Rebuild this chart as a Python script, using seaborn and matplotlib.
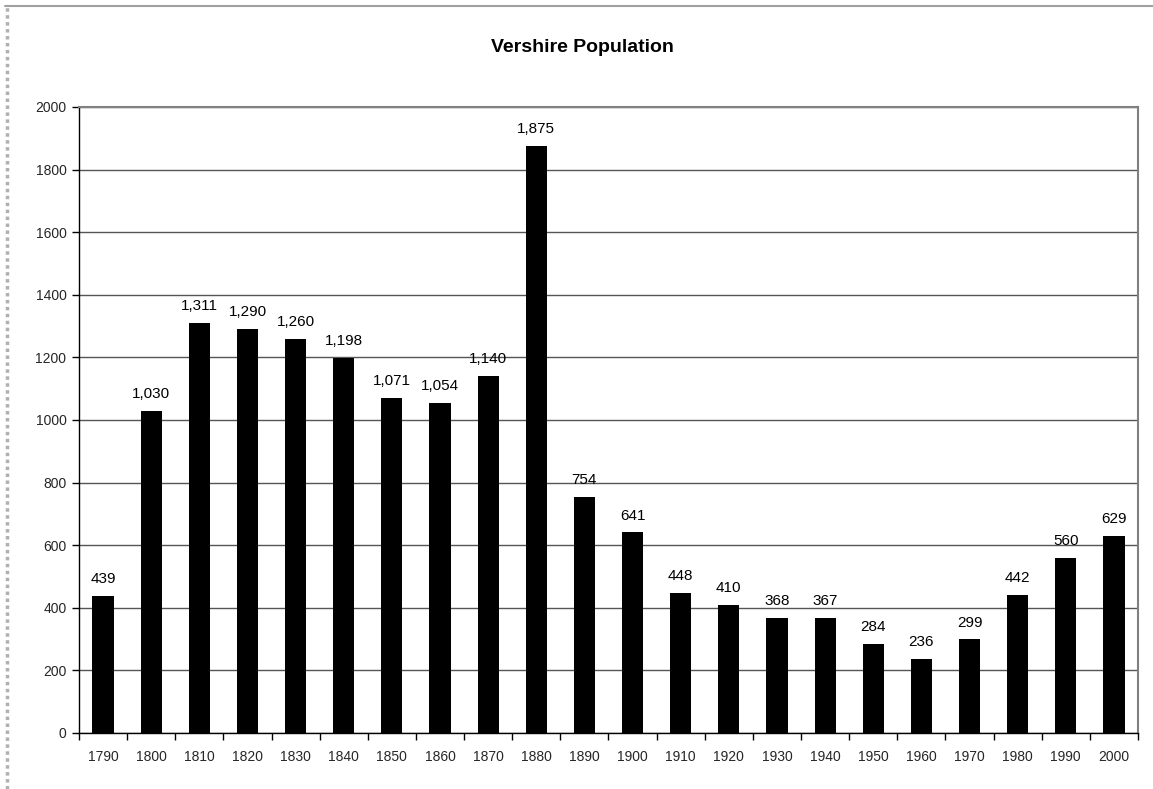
import matplotlib
matplotlib.use("Agg")
import matplotlib.pyplot as plt
from matplotlib.lines import Line2D
import seaborn as sns
import pandas as pd

years = ["1790", "1800", "1810", "1820", "1830", "1840", "1850", "1860", "1870", "1880",
         "1890", "1900", "1910", "1920", "1930", "1940", "1950", "1960", "1970", "1980",
         "1990", "2000"]
population = [439, 1030, 1311, 1290, 1260, 1198, 1071, 1054, 1140, 1875,
              754, 641, 448, 410, 368, 367, 284, 236, 299, 442,
              560, 629]
y_ticks = [0, 200, 400, 600, 800, 1000, 1200, 1400, 1600, 1800, 2000]

df = pd.DataFrame({"Year": years, "Population": population})

sns.set_theme(style="white")
plt.rcParams["font.family"] = ["Liberation Sans", "DejaVu Sans"]

fig = plt.figure(figsize=(11.53, 7.89), dpi=100)
ax = fig.add_axes([0.0685, 0.0710, 0.9185, 0.7934])

sns.barplot(data=df, x="Year", y="Population", order=years, color="black",
            width=0.44, saturation=1, ax=ax, zorder=3)
for p in ax.patches:
    p.set_edgecolor("black")
    p.set_linewidth(0)

ax.set_xlim(-0.5, len(years) - 0.5)
ax.set_ylim(0, 2000)
ax.set_yticks(y_ticks)
ax.set_yticklabels([str(v) for v in y_ticks], fontsize=10)
ax.yaxis.grid(True, color="#555555", linewidth=1.0, zorder=0)
ax.set_axisbelow(True)

# category ticks sit between bars
ax.set_xticks(range(len(years)))
ax.set_xticklabels(years, fontsize=10)
ax.tick_params(axis="x", length=0, pad=12)
ax.set_xticks([i - 0.5 for i in range(len(years) + 1)], minor=True)
ax.tick_params(axis="x", which="minor", length=5, width=1, color="black", direction="out",
               bottom=True)
ax.tick_params(axis="y", length=5, width=1, color="black", direction="out", left=True, pad=4)

ax.set_xlabel("")
ax.set_ylabel("")

for side in ["left", "bottom"]:
    ax.spines[side].set_color("black")
    ax.spines[side].set_linewidth(1.0)
for side in ["top", "right"]:
    ax.spines[side].set_color("#808080")
    ax.spines[side].set_linewidth(1.5)
    ax.spines[side].set_visible(True)

for i, v in enumerate(population):
    ax.annotate(f"{v:,}", (i, v), xytext=(0, 7), textcoords="offset points",
                ha="center", va="bottom", fontsize=11, color="black")

fig.text(582 / 1153, 1 - 48 / 789, "Vershire Population", ha="center", va="center",
         fontsize=14, fontweight="bold", color="black")

# outer chart frame
fig.add_artist(Line2D([5 / 1153, 1.0], [1 - 6 / 789, 1 - 6 / 789], transform=fig.transFigure,
                      color="#a0a0a0", linewidth=1.5))
fig.add_artist(Line2D([7 / 1153, 7 / 1153], [0.0, 1 - 6 / 789], transform=fig.transFigure,
                      color="#b0b0b0", linewidth=2.5, linestyle=(0, (1, 1))))

fig.savefig("out.png", dpi=100, facecolor="white")
